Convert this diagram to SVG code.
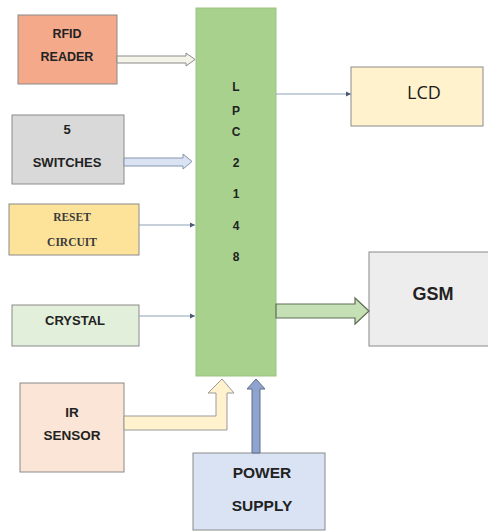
<svg xmlns="http://www.w3.org/2000/svg" width="488" height="532" viewBox="0 0 488 532">
<defs>
<style>
.box{stroke:#8a8a8a;stroke-width:1}
.lbl{font-family:"Liberation Sans",Arial,sans-serif;font-weight:bold;fill:#222222;text-anchor:middle}
.ser{font-family:"Liberation Serif","Times New Roman",serif;font-weight:bold;fill:#3a3a3a;text-anchor:middle}
.thin{stroke:#8ea3b8;stroke-width:1;fill:none}
</style>
<marker id="ah" markerWidth="6" markerHeight="6" refX="5" refY="3" orient="auto" markerUnits="userSpaceOnUse">
<path d="M0,0.5 L5,3 L0,5.5 Z" fill="#4a5a70"/>
</marker>
</defs>
<rect width="488" height="532" fill="#ffffff"/>

<g id="lpc">
<rect x="196" y="8" width="80" height="368" fill="#a9d18e" stroke="#9cc482"/>
<g class="lbl" font-size="12">
<text x="236" y="91">L</text>
<text x="236" y="115">P</text>
<text x="236" y="136">C</text>
<text x="236" y="167">2</text>
<text x="236" y="198">1</text>
<text x="236" y="230">4</text>
<text x="236" y="261">8</text>
</g>
</g>

<g id="rfid">
<rect class="box" x="18" y="15" width="99" height="69" fill="#f4a98b" stroke="#d08a70"/>
<text class="lbl" x="67" y="38" font-size="12.5">RFID</text>
<text class="lbl" x="67" y="61" font-size="12.5">READER</text>
</g>

<g id="switches">
<rect class="box" x="12" y="115" width="112" height="69" fill="#d9d9d9" stroke="#8c8c8c"/>
<text class="lbl" x="67" y="134" font-size="13">5</text>
<text class="lbl" x="67" y="167" font-size="13">SWITCHES</text>
</g>

<g id="reset">
<rect class="box" x="9" y="204" width="130" height="51" fill="#fde39a" stroke="#a89a70"/>
<text class="ser" x="72" y="221" font-size="11.5">RESET</text>
<text class="ser" x="72" y="246" font-size="11.5">CIRCUIT</text>
</g>

<g id="crystal">
<rect class="box" x="12" y="305" width="127" height="41" fill="#e2efda" stroke="#8a8a8a"/>
<text class="lbl" x="75" y="324.5" font-size="13">CRYSTAL</text>
</g>

<g id="ir">
<rect class="box" x="20" y="383" width="104" height="89" fill="#fbe5d6" stroke="#8a8a8a"/>
<text class="lbl" x="72" y="416.5" font-size="13.5">IR</text>
<text class="lbl" x="72" y="439.5" font-size="13.5">SENSOR</text>
</g>

<g id="power">
<rect class="box" x="193" y="453" width="132" height="77" fill="#dae3f3" stroke="#8a8a8a"/>
<text class="lbl" x="262" y="478" font-size="15.5">POWER</text>
<text class="lbl" x="262" y="511" font-size="15.5">SUPPLY</text>
</g>

<g id="lcd">
<rect class="box" x="351" y="67" width="132" height="59" fill="#fff2cc" stroke="#8a8a8a"/>
<text x="424" y="98.5" font-family="'Open Sans','Liberation Sans',sans-serif" font-size="18" fill="#1a1a1a" text-anchor="middle">LCD</text>
</g>

<g id="gsm">
<rect class="box" x="369" y="252" width="124" height="94" fill="#ededed" stroke="#8a8a8a"/>
<text class="lbl" x="433" y="299.5" font-size="18">GSM</text>
</g>

<g id="connectors">
<path d="M117,56 L186,56 L186,53 L195,59.5 L186,66 L186,63 L117,63 Z" fill="#f4f4e8" stroke="#8c8c8c" stroke-width="1"/>
<path d="M124,158 L183,158 L183,154 L192,161.5 L183,169 L183,166 L124,166 Z" fill="#dae3f3" stroke="#8796ab" stroke-width="1"/>
<line class="thin" x1="139" y1="225" x2="195" y2="225" marker-end="url(#ah)"/>
<line class="thin" x1="139" y1="316" x2="195" y2="316" marker-end="url(#ah)"/>
<line class="thin" x1="276" y1="94" x2="351" y2="94" marker-end="url(#ah)"/>
<path d="M276,304 L355,304 L355,298 L369,311 L355,324 L355,318 L276,318 Z" fill="#c5e0b4" stroke="#5f6e55" stroke-width="1.2"/>
<path d="M124,416 L216,416 L216,393 L208,393 L222,379 L234,393 L227,393 L227,430 L124,430 Z" fill="#fff2cc" stroke="#9a9a9a" stroke-width="1"/>
<path d="M252,453 L252,389 L247,389 L256,379 L265,389 L260,389 L260,453 Z" fill="#8fa3cf" stroke="#5e6e8a" stroke-width="1"/>
</g>
</svg>
